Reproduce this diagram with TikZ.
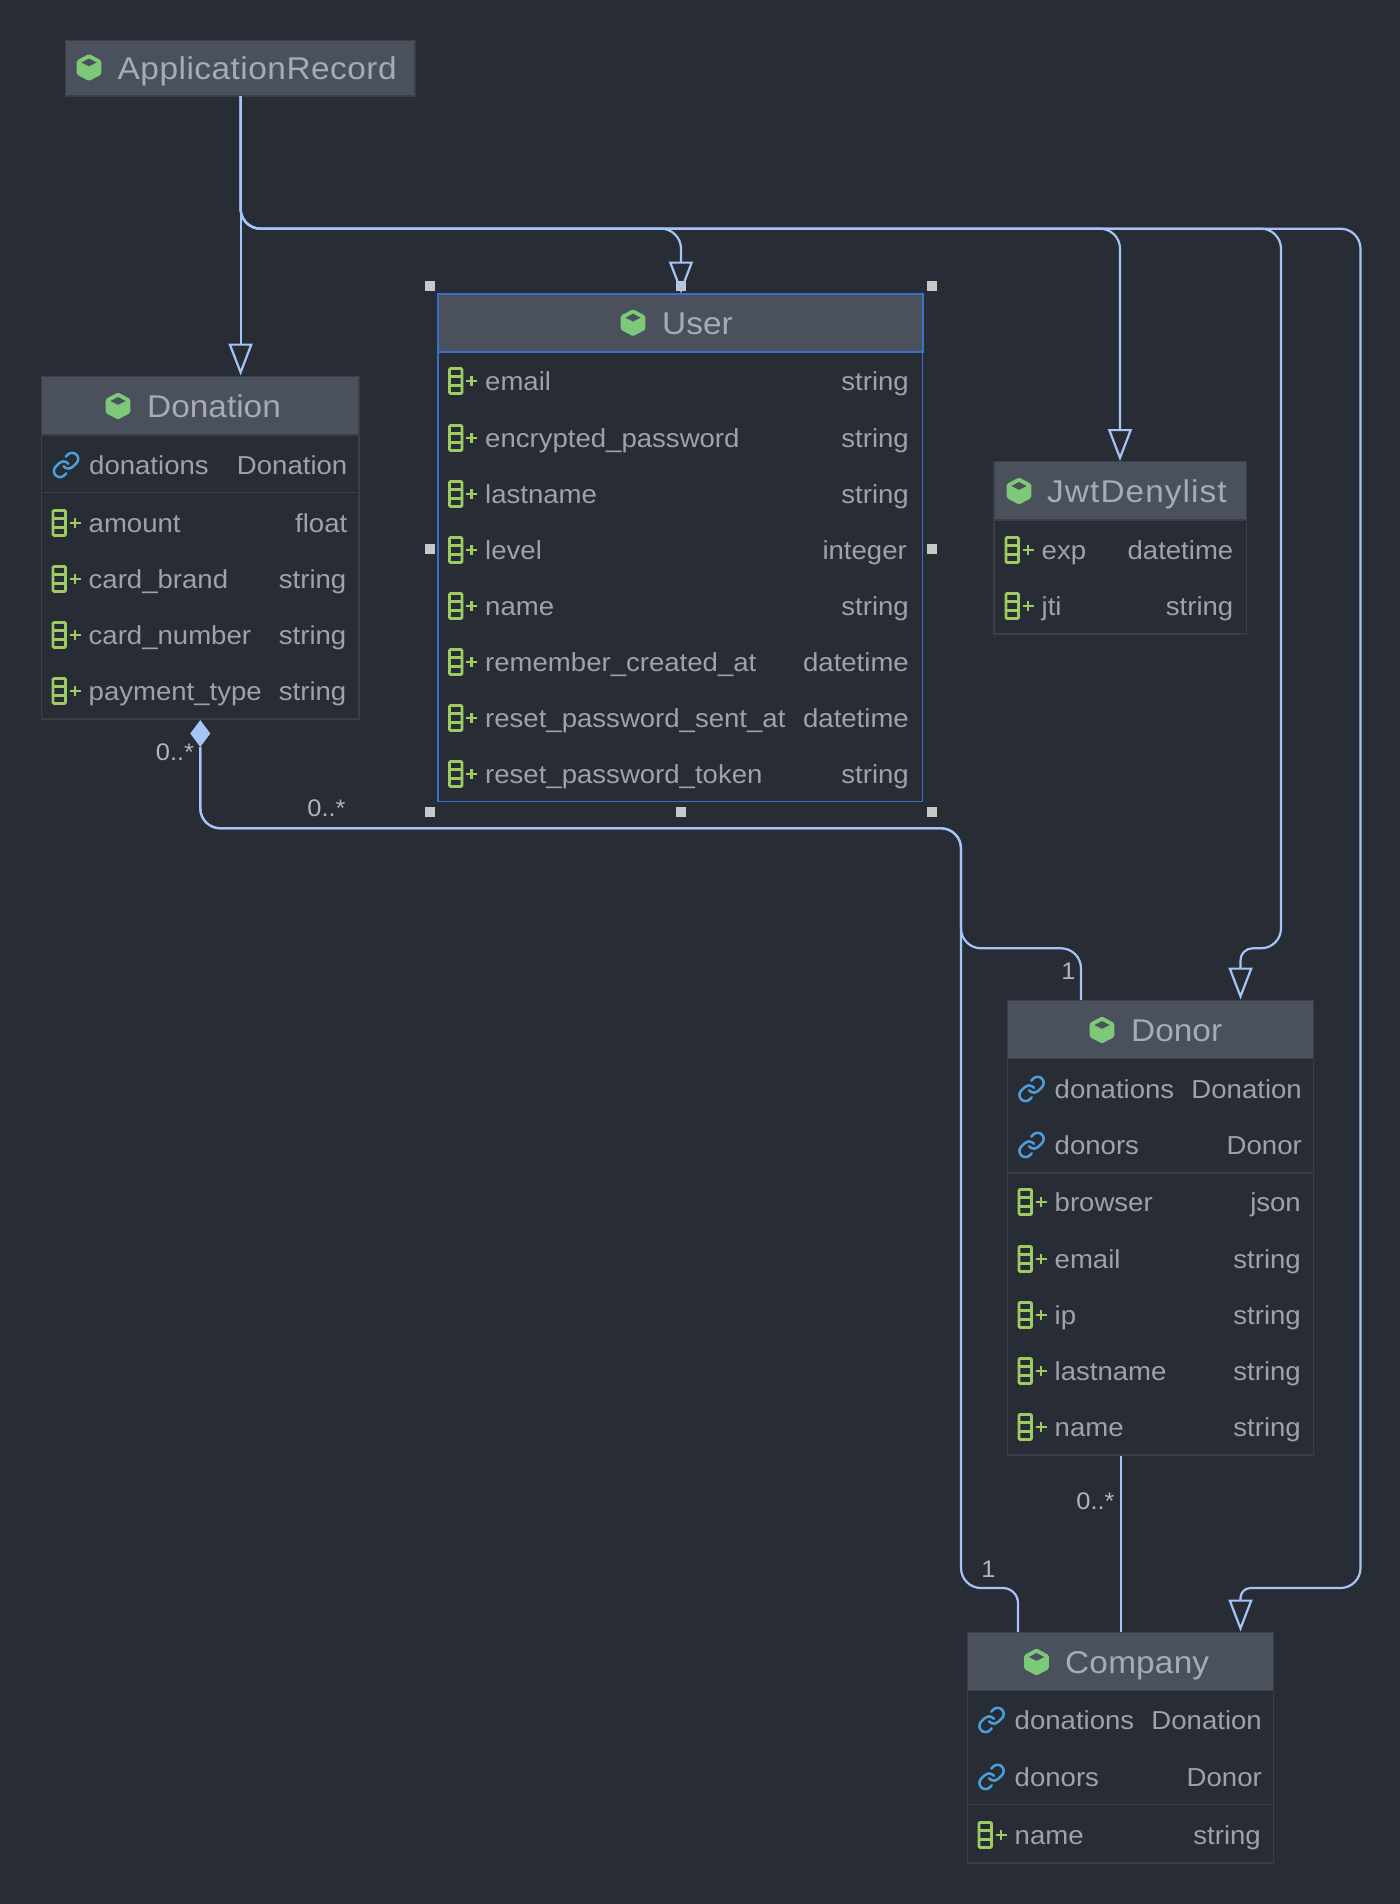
\documentclass[tikz,border=0pt]{standalone}
\usepackage{fontspec}
\setmainfont[FakeStretch=1.06]{Liberation Sans}
\usetikzlibrary{arrows.meta,shapes.geometric,svg.path}
\definecolor{bgc}{HTML}{282C34}
\definecolor{headc}{HTML}{4A505C}
\definecolor{edgec}{HTML}{393E48}
\definecolor{txtc}{HTML}{9DA2AC}
\definecolor{titlec}{HTML}{A6ABB6}
\definecolor{multc}{HTML}{B0B4BC}
\definecolor{linkc}{HTML}{A6C5F7}
\definecolor{selc}{HTML}{3A6FCB}
\definecolor{cubec}{HTML}{7CC97A}
\definecolor{fieldc}{HTML}{9CCC62}
\definecolor{assocc}{HTML}{4A9FDC}
\definecolor{handlec}{HTML}{C8C8C8}
\tikzset{
  bodybox/.style={draw=edgec,line width=1.5pt,fill=bgc,inner sep=0pt,outer sep=0pt},
  selbox/.style={draw=selc,line width=1.5pt,fill=bgc,inner sep=0pt,outer sep=0pt},
  headbox/.style={draw=edgec,line width=1.5pt,fill=headc,inner sep=0pt,outer sep=0pt},
  selhead/.style={draw=selc,line width=2pt,fill=headc,inner sep=0pt,outer sep=0pt},
  titletxt/.style={anchor=base west,inner sep=0pt,text=titlec,font=\fontsize{31.5}{36}\selectfont},
  rowl/.style={anchor=base west,inner sep=0pt,text=txtc,font=\fontsize{26}{30}\selectfont},
  rowr/.style={anchor=base east,inner sep=0pt,text=txtc,font=\fontsize{26}{30}\selectfont},
  multtxt/.style={anchor=base,inner sep=0pt,text=multc,font=\fontsize{24}{27}\selectfont},
  conn/.style={draw=linkc,line width=2.2pt},
  inherit/.style={conn,-{Triangle[open,length=32pt,width=24pt]}},
  handlebox/.style={fill=handlec,minimum size=10pt,inner sep=0pt,outer sep=0pt},
  sepline/.style={draw=edgec,line width=1.5pt},
  fieldicon/.style={draw=fieldc,line width=2.7pt},
  linkicon/.style={draw=assocc,line width=2.0pt,line cap=round,line join=round},
}
% name x1 y1 x2 y2 style
\newcommand{\boxat}[6]{%
  \pgfmathsetmacro{\cxx}{(#2+#4)/2}\pgfmathsetmacro{\cyy}{(#3+#5)/2}%
  \pgfmathsetmacro{\wdd}{#4-#2}\pgfmathsetmacro{\htt}{#5-#3}%
  \node[#6,minimum width=\wdd pt,minimum height=\htt pt] (#1) at (\cxx,\cyy) {};}
\newcommand{\cubeicon}[2]{%
  \begin{scope}[shift={(#1,#2)}]
    \fill[cubec,rounded corners=1.5pt] (0,-13.5)--(12.3,-7)--(12.3,7)--(0,13.5)--(-12.3,7)--(-12.3,-7)--cycle;
    \fill[headc] (0,-9)--(7.5,-5)--(0,-1.2)--(-7.5,-5)--cycle;
  \end{scope}}
% title: name, icon x, y, text x, text
\newcommand{\umltitle}[5]{%
  \cubeicon{#2}{#3}%
  \pgfmathsetmacro{\bb}{#3+11.7}%
  \node[titletxt] (#1) at (#4,\bb) {#5};}
\newcommand{\fieldmark}[2]{%
  \begin{scope}[shift={(#1,#2)}]
    \draw[fieldicon,rounded corners=1pt] (-35.5,-12.5) rectangle (-23,12.5);
    \draw[fieldicon] (-35.5,-4.2)--(-23,-4.2) (-35.5,4.2)--(-23,4.2);
    \draw[fieldicon] (-18.8,0)--(-8,0) (-13.4,-5.4)--(-13.4,5.4);
  \end{scope}}
\newcommand{\linkmark}[2]{%
  \begin{scope}[shift={(#1,#2)},xshift=-23pt,scale=1.22,yscale=-1,xshift=-12pt,yshift=-12pt]
    \draw[linkicon,line width=2.5pt] svg {M10 13a5 5 0 0 0 7.54.54l3-3a5 5 0 0 0-7.07-7.07l-1.72 1.71};
    \draw[linkicon,line width=2.5pt] svg {M14 11a5 5 0 0 0-7.54-.54l-3 3a5 5 0 0 0 7.07 7.07l1.71-1.71};
  \end{scope}}
% name, left x, right x, y, text, type
\newcommand{\frow}[6]{%
  \fieldmark{#2}{#4}%
  \pgfmathsetmacro{\bb}{#4+9.3}%
  \node[rowl] (#1L) at (#2,\bb) {#5};
  \node[rowr] (#1R) at (#3,\bb) {#6};}
\newcommand{\lrow}[6]{%
  \linkmark{#2}{#4}%
  \pgfmathsetmacro{\bb}{#4+9.3}%
  \node[rowl] (#1L) at (#2,\bb) {#5};
  \node[rowr] (#1R) at (#3,\bb) {#6};}
\begin{document}
\begin{tikzpicture}[x=1pt,y=-1pt]
\useasboundingbox (0,0) rectangle (1400,1904);
\fill[bgc] (0,0) rectangle (1400,1904);

% ApplicationRecord
\boxat{arHead}{65.5}{40.5}{415}{96}{headbox}
\umltitle{arT}{89}{67.5}{117.5}{\addfontfeature{LetterSpace=1.6}ApplicationRecord}

% Donation
\boxat{donation}{41.5}{376.5}{359}{719}{bodybox}
\boxat{donationHead}{41.5}{376.5}{359}{435}{headbox}
\umltitle{donationT}{118}{406}{147}{Donation}
\lrow{dn1}{89}{347.5}{465}{donations}{Donation}
\coordinate (dnSa) at (41.5,492.7); \coordinate (dnSb) at (359,492.7);
\draw[sepline] (dnSa)--(dnSb);
\frow{dn2}{88.5}{347.5}{523}{amount}{float}
\frow{dn3}{88.5}{346.5}{579}{card\_brand}{string}
\frow{dn4}{88.5}{346.5}{635}{card\_number}{string}
\frow{dn5}{88.5}{346.5}{691}{payment\_type}{string}

% User
\boxat{user}{437.8}{294}{922.5}{801.5}{selbox}
\boxat{userHead}{437.8}{294}{922.5}{352}{selhead}
\umltitle{userT}{633}{322.7}{662}{User}
\frow{us1}{485}{909}{381}{email}{string}
\frow{us2}{485}{909}{438}{encrypted\_password}{string}
\frow{us3}{485}{909}{494}{lastname}{string}
\frow{us4}{485}{907}{550}{level}{integer}
\frow{us5}{485}{909}{606}{name}{string}
\frow{us6}{485}{909}{662}{remember\_created\_at}{datetime}
\frow{us7}{485}{909}{718}{reset\_password\_sent\_at}{datetime}
\frow{us8}{485}{909}{774}{reset\_password\_token}{string}

% JwtDenylist
\boxat{jwt}{994}{461.5}{1246.5}{634}{bodybox}
\boxat{jwtHead}{994}{461.5}{1246.5}{520}{headbox}
\umltitle{jwtT}{1019}{491}{1047}{\addfontfeature{LetterSpace=3.4}JwtDenylist}
\frow{jw1}{1041.5}{1233.5}{550}{exp}{datetime}
\frow{jw2}{1041.5}{1233.5}{606}{jti}{string}

% Donor
\boxat{donor}{1007.5}{1000.5}{1313.5}{1455}{bodybox}
\boxat{donorHead}{1007.5}{1000.5}{1313.5}{1058.7}{headbox}
\umltitle{donorT}{1102}{1030}{1131}{Donor}
\lrow{dr1}{1054.5}{1302}{1089}{donations}{Donation}
\lrow{dr2}{1054.5}{1302}{1145}{donors}{Donor}
\coordinate (drSa) at (1007.5,1173); \coordinate (drSb) at (1313.5,1173);
\draw[sepline] (drSa)--(drSb);
\frow{dr3}{1054.5}{1301}{1202}{browser}{json}
\frow{dr4}{1054.5}{1301}{1259}{email}{string}
\frow{dr5}{1054.5}{1301}{1315}{ip}{string}
\frow{dr6}{1054.5}{1301}{1371}{lastname}{string}
\frow{dr7}{1054.5}{1301}{1427}{name}{string}

% Company
\boxat{company}{967.5}{1632.5}{1273.5}{1863}{bodybox}
\boxat{companyHead}{967.5}{1632.5}{1273.5}{1690.7}{headbox}
\umltitle{companyT}{1036.5}{1662}{1065}{\addfontfeature{LetterSpace=0.6}Company}
\lrow{cp1}{1014.5}{1262}{1720}{donations}{Donation}
\lrow{cp2}{1014.5}{1262}{1777}{donors}{Donor}
\coordinate (cpSa) at (967.5,1804.7); \coordinate (cpSb) at (1273.5,1804.7);
\draw[sepline] (cpSa)--(cpSb);
\frow{cp3}{1014.5}{1261}{1835}{name}{string}

% selection handles
\node[handlebox] (h1) at (430,286) {};
\node[handlebox] (h2) at (680.5,286) {};
\node[handlebox] (h3) at (932,286) {};
\node[handlebox] (h4) at (430,549) {};
\node[handlebox] (h5) at (932,549) {};
\node[handlebox] (h6) at (430,811.5) {};
\node[handlebox] (h7) at (680.5,811.5) {};
\node[handlebox] (h8) at (932,811.5) {};

% ports and routing coordinates
\coordinate (bus) at (0,228.7);
\coordinate (arOut) at (240.6,96);
\coordinate (donationIn) at (240.6,375.5);
\coordinate (userIn) at (681,293.5);
\coordinate (jwtIn) at (1120,461);
\coordinate (donorIn) at (1240.5,999.5);
\coordinate (companyIn) at (1240.5,1631.5);
\coordinate (railA) at (1281,0);
\coordinate (railB) at (1360.5,0);
\coordinate (donorBend) at (0,948.3);
\coordinate (companyBend) at (0,1588);
\coordinate (assocBus) at (0,828.3);
\coordinate (assocRail) at (961,0);
\coordinate (donorAssoc) at (1081,1000);
\coordinate (companyAssoc) at (1018,1632);
\coordinate (donorDown) at (1120.7,1456);
\coordinate (companyUp) at (1120.7,1632);

\draw[inherit] (arOut) -- (donationIn);
\draw[inherit,rounded corners=20pt] (arOut) -- (arOut|-bus) -- (userIn|-bus) -- (userIn);
\draw[inherit,rounded corners=20pt] (arOut) -- (arOut|-bus) -- (jwtIn|-bus) -- (jwtIn);
\draw[inherit,rounded corners=20pt] (arOut) -- (arOut|-bus) -- (railA|-bus) -- (railA|-donorBend) [rounded corners=12pt] -- (donorIn|-donorBend) -- (donorIn);
\draw[inherit,rounded corners=20pt] (arOut) -- (arOut|-bus) -- (railB|-bus) -- (railB|-companyBend) [rounded corners=10pt] -- (companyIn|-companyBend) -- (companyIn);

\node[diamond,fill=linkc,inner sep=0pt,minimum width=20pt,minimum height=27pt,outer sep=0pt] (assocEnd) at (200.3,733.5) {};
\draw[conn,rounded corners=20pt] (assocEnd.south) -- (assocEnd.south|-assocBus) -- (assocRail|-assocBus) -- (assocRail|-donorBend) -- (donorAssoc|-donorBend) -- (donorAssoc);
\draw[conn,rounded corners=20pt] (assocEnd.south) -- (assocEnd.south|-assocBus) -- (assocRail|-assocBus) -- (assocRail|-companyBend) [rounded corners=15pt] -- (companyAssoc|-companyBend) -- (companyAssoc);
\draw[conn] (donorDown) -- (companyUp);

% multiplicities
\node[multtxt] (m1) at (175,760) {0..*};
\node[multtxt] (m2) at (326.5,816) {0..*};
\node[multtxt] (m3) at (1068.5,979) {1};
\node[multtxt] (m4) at (1095.5,1509) {0..*};
\node[multtxt] (m5) at (988.5,1577) {1};
\end{tikzpicture}
\end{document}
